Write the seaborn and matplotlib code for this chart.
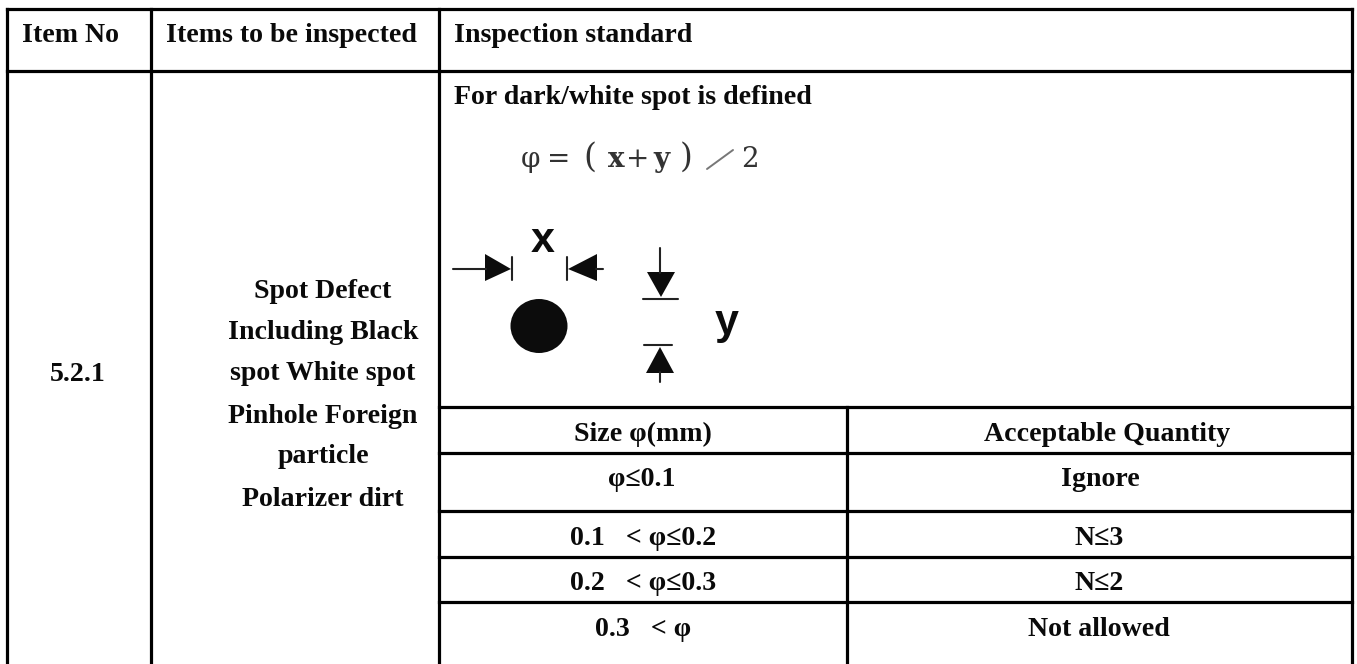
import matplotlib
matplotlib.use("Agg")
import matplotlib.pyplot as plt
import pandas as pd
import seaborn as sns
from matplotlib.patches import Ellipse, Polygon

# ---- table content ----
header_labels = ["Item No", "Items to be inspected", "Inspection standard"]
item_number = "5.2.1"
item_lines = ["Spot Defect", "Including Black", "spot White spot",
              "Pinhole Foreign", "particle", "Polarizer dirt"]
definition_title = "For dark/white spot is defined"
formula_glyphs = ["φ", "=", "(", "x", "+", "y", ")", "2"]
sizes = ["Size φ(mm)", "φ≤0.1", "0.1   < φ≤0.2", "0.2   < φ≤0.3", "0.3   < φ"]
quantities = ["Acceptable Quantity", "Ignore", "N≤3", "N≤2", "Not allowed"]

# ---- layout in image pixels ----
W, H = 1357, 664
col_x = [7, 151, 439, 1352]
sub_col_x = 847
top_y, header_y, bottom_y = 9, 71, 664
sub_row_y = [407, 453, 511, 557, 602]
row_base = [441, 486, 545, 590, 636]
size_x = [643, 642, 643, 643, 643]
quantity_x = [1107, 1100, 1099, 1099, 1099]
item_base = [298, 339, 380, 423, 463, 506]
formula_x = [531, 559, 590, 616, 638, 661, 686, 750]

rules = []
for x in col_x:
    rules.append((x, top_y, x, bottom_y))
rules.append((col_x[0], top_y, col_x[3], top_y))
rules.append((col_x[0], header_y, col_x[3], header_y))
for y in sub_row_y:
    rules.append((col_x[2], y, col_x[3], y))
rules.append((sub_col_x, sub_row_y[0], sub_col_x, bottom_y))
rows = []
for i, (x0, y0, x1, y1) in enumerate(rules):
    rows += [dict(rule=i, x=x0, y=y0), dict(rule=i, x=x1, y=y1)]
grid = pd.DataFrame(rows)

sns.set_theme(style="white")
plt.rcParams["font.family"] = ["Liberation Serif", "DejaVu Serif"]
fig = plt.figure(figsize=(W / 100, H / 100), dpi=100, facecolor="white")
ax = fig.add_axes([0, 0, 1, 1])
sns.lineplot(data=grid, x="x", y="y", units="rule", estimator=None, sort=False,
             color="black", linewidth=2.3, ax=ax, legend=False,
             solid_capstyle="projecting")
ax.set_xlim(0, W)
ax.set_ylim(H, 0)
ax.axis("off")

FS = 20.1
bold = dict(fontsize=FS, fontweight="bold", color="#0a0a0a", va="baseline")
ax.text(22, 42, header_labels[0], ha="left", **bold)
ax.text(166, 42, header_labels[1], ha="left", **bold)
ax.text(454, 42, header_labels[2], ha="left", **bold)
ax.text(454, 104, definition_title, ha="left", **bold)
ax.text(78, 381, item_number, ha="center", **bold)
for line, y in zip(item_lines, item_base):
    ax.text(323, y, line, ha="center", **bold)
for s, sx, q, qx, y in zip(sizes, size_x, quantities, quantity_x, row_base):
    ax.text(sx, y, s, ha="center", **bold)
    ax.text(qx, y, q, ha="center", **bold)

# ---- definition sketch ----
ink = "#0c0c0c"
for glyph, x in zip(formula_glyphs, formula_x):
    ax.text(x, 167, glyph, ha="center", va="baseline",
            fontsize=24 if glyph in "()" else 20,
            family="DejaVu Serif", color="#333333",
            fontweight="bold" if glyph in "xy" else "normal")
ax.plot([707, 733], [169, 150], color="#777777", lw=1.4)
ax.text(543, 252, "x", ha="center", va="baseline", fontsize=31, fontweight="bold",
        family="Liberation Sans", color=ink)
ax.text(727, 334, "y", ha="center", va="baseline", fontsize=31, fontweight="bold",
        family="Liberation Sans", color=ink)
ax.add_patch(Ellipse((539, 326), 57, 54, color=ink, lw=0))
for tri in ([(485, 254), (485, 281), (511, 269)],
            [(597, 254), (597, 281), (568, 269)],
            [(647, 272), (675, 272), (661, 297)],
            [(646, 373), (674, 373), (660, 347)]):
    ax.add_patch(Polygon(tri, closed=True, color=ink, lw=0))
for (x0, y0, x1, y1) in [(453, 269, 486, 269), (512, 257, 512, 280),
                         (567, 257, 567, 280), (596, 269, 603, 269),
                         (660, 248, 660, 273), (643, 299, 678, 299),
                         (644, 345, 672, 345), (660, 372, 660, 382)]:
    ax.plot([x0, x1], [y0, y1], color="#222222", lw=1.5)

fig.savefig("out.png", dpi=100, facecolor="white")
